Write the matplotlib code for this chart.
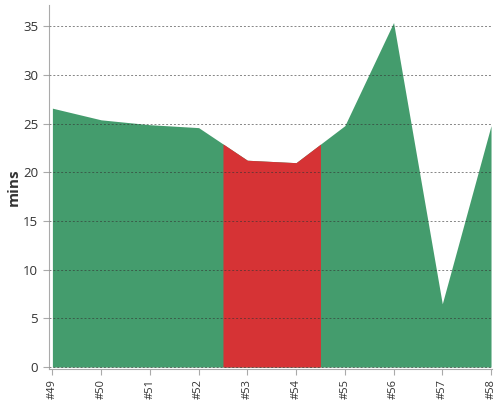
import numpy as np
import matplotlib.pyplot as plt

plt.rcParams['font.family'] = ['Open Sans', 'DejaVu Sans']

# build labels and duration (mins)
labels = ["#49", "#50", "#51", "#52", "#53", "#54", "#55", "#56", "#57", "#58"]
mins = [26.6, 25.4, 24.9, 24.6, 21.25, 21.0, 24.8, 35.4, 6.5, 24.8]
failed = ["#53", "#54"]

green = "#449c6d"
red = "#d63335"

x = np.arange(len(labels))
y = np.array(mins)

fig = plt.figure(figsize=(5, 4), dpi=100)
ax = fig.add_axes([0.097, 0.0775, 0.887, 0.91])

ax.fill_between(x, 0, y, color=green, linewidth=0)

# red band around failed builds, half way to neighbours
idx = [labels.index(f) for f in failed]
x0, x1 = min(idx) - 0.5, max(idx) + 0.5
xr = np.concatenate([[x0], x[(x > x0) & (x < x1)], [x1]])
yr = np.interp(xr, x, y)
ax.fill_between(xr, 0, yr, color=red, linewidth=0)

ax.set_xlim(-0.08, 9.02)
ax.set_ylim(-0.2, 37.2)
ax.set_xticks(x)
ax.set_xticklabels(labels, rotation=90, fontsize=8, color="#333333")
ax.set_yticks(np.arange(0, 36, 5))
ax.tick_params(axis="y", labelsize=9.5, colors="#333333", length=4, color="#aaaaaa")
ax.tick_params(axis="x", length=4, color="#aaaaaa")
ax.set_ylabel("mins", fontsize=11, fontweight="bold", color="#333333")
ax.yaxis.set_label_coords(-0.062, 0.5)

ax.set_axisbelow(False)
ax.grid(axis="y", linestyle=(0, (2, 2)), color="#333333", alpha=0.6, linewidth=0.7)
for s in ["top", "right"]:
    ax.spines[s].set_visible(False)
for s in ["left", "bottom"]:
    ax.spines[s].set_color("#aaaaaa")

fig.savefig("out.png")
